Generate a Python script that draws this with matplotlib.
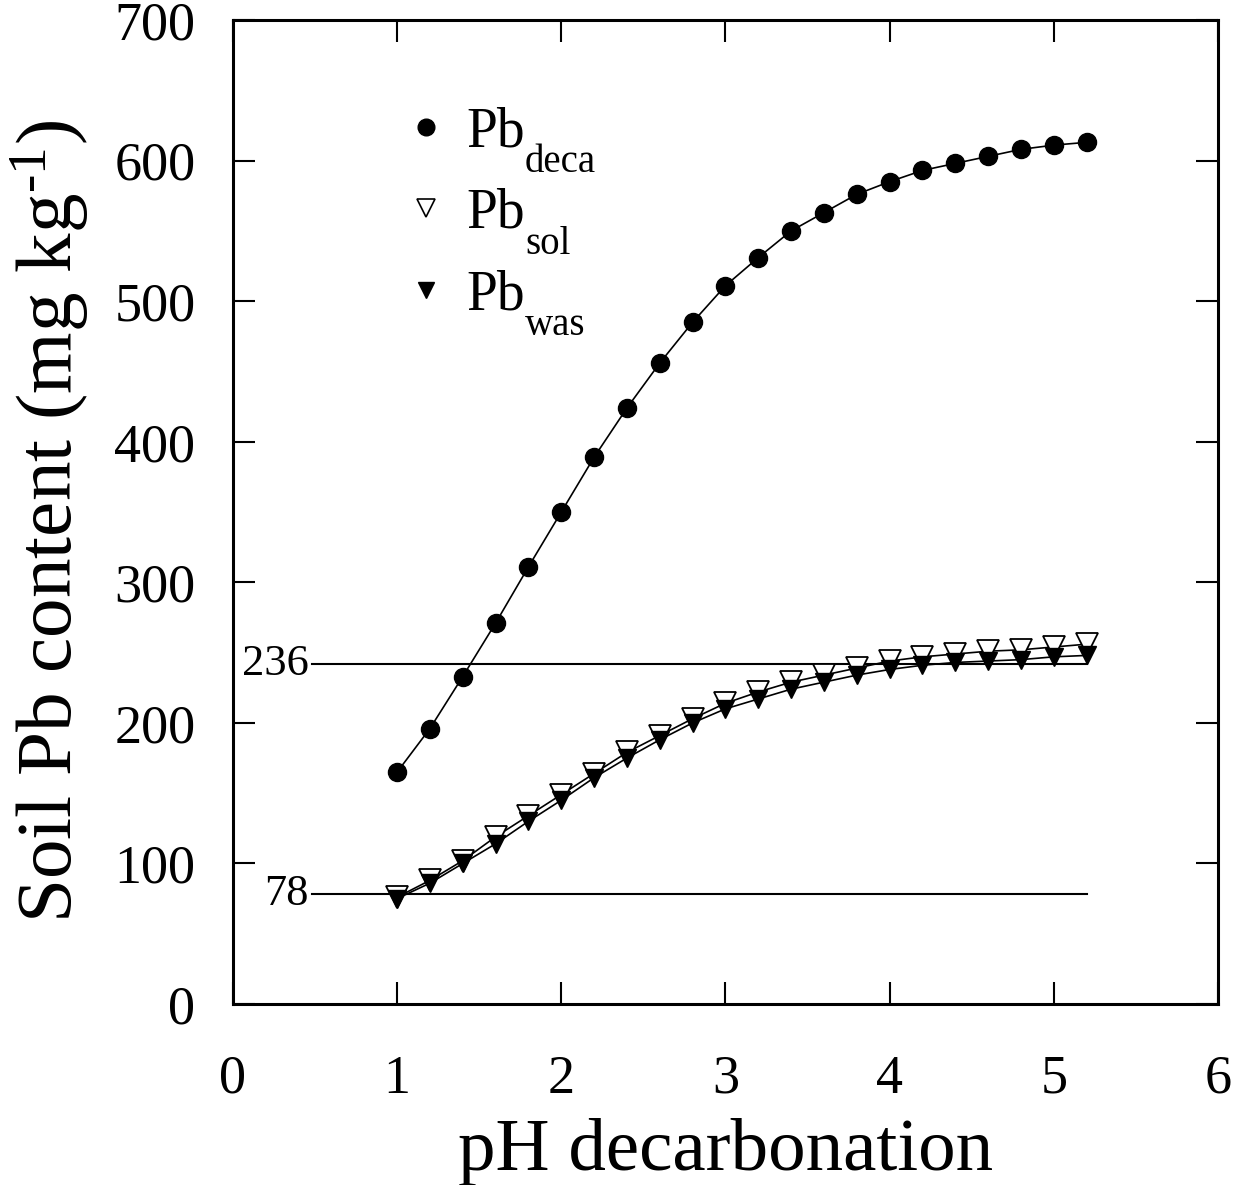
import matplotlib
matplotlib.use("Agg")
import matplotlib.pyplot as plt
from matplotlib.lines import Line2D

plt.rcParams['font.family'] = ['Liberation Serif', 'DejaVu Serif']
plt.rcParams['mathtext.fontset'] = 'custom'
plt.rcParams['mathtext.rm'] = 'Liberation Serif'
plt.rcParams['mathtext.it'] = 'Liberation Serif:italic'

ph = [1.0, 1.2, 1.4, 1.6, 1.8, 2.0, 2.2, 2.4, 2.6, 2.8, 3.0,
      3.2, 3.4, 3.6, 3.8, 4.0, 4.2, 4.4, 4.6, 4.8, 5.0, 5.2]
pb_deca = [165, 196, 233, 271, 311, 350, 389, 424, 456, 485, 511,
           531, 550, 563, 576, 585, 593, 598, 603, 608, 611, 613]
pb_sol = [76, 88, 102, 119, 134, 149, 164, 179, 191, 203, 214,
          222, 229, 234, 239, 244, 247, 249, 251, 252, 254, 256]
pb_was = [75, 86, 100, 114, 130, 145, 161, 175, 188, 200, 210,
          217, 224, 229, 234, 238, 241, 243, 244, 245, 247, 248]
ref_levels = [242, 78]
ref_labels = ["236", "78"]
ref_span = [0.48, 5.2]
x_ticks = [0, 1, 2, 3, 4, 5, 6]
y_ticks = [0, 100, 200, 300, 400, 500, 600, 700]
legend_main = ["Pb", "Pb", "Pb"]
legend_sub = ["deca", "sol", "was"]

fig = plt.figure(figsize=(12.47, 11.85), dpi=100)
ax = fig.add_axes([0.1868, 0.1527, 0.7899, 0.8304])

for lvl, lab in zip(ref_levels, ref_labels):
    ax.plot(ref_span, [lvl, lvl], color='black', lw=1.5, zorder=1)
    ax.text(ref_span[0] - 0.02, lvl, lab, ha='right', va='center', fontsize=32)

ax.plot(ph, pb_deca, color='black', lw=1.2, marker='o', ms=13,
        mfc='black', mec='black', zorder=3)
ax.plot(ph, pb_sol, color='black', lw=1.2, marker='v', ms=16,
        mfc='white', mec='black', mew=1.3, zorder=3)
ax.plot(ph, pb_was, color='black', lw=1.2, marker='v', ms=12.5,
        mfc='black', mec='black', zorder=4)

ax.set_xlim(0, 6)
ax.set_ylim(0, 700)
ax.set_xticks(x_ticks)
ax.set_yticks(y_ticks)
ax.tick_params(direction='in', length=16, width=1.5, top=True, right=True,
               labelsize=39)
ax.tick_params(axis='x', pad=36)
ax.tick_params(axis='y', pad=27)
for sp in ax.spines.values():
    sp.set_linewidth(2.2)

ax.set_xlabel("pH decarbonation", fontsize=54, labelpad=10)
ax.set_ylabel("Soil Pb content (mg kg$^{\\text{-1}}$)", fontsize=57)
ax.yaxis.set_label_coords(-0.144, 0.49)

handles = [
    Line2D([], [], ls='none', marker='o', ms=12, mfc='black', mec='black'),
    Line2D([], [], ls='none', marker='v', ms=13, mfc='white', mec='black', mew=1.2),
    Line2D([], [], ls='none', marker='v', ms=11, mfc='black', mec='black'),
]
leg = ax.legend(handles, legend_main, loc='upper left', bbox_to_anchor=(0.154, 0.935),
                frameon=False, fontsize=40, handlelength=0.7, handletextpad=0.37,
                labelspacing=0.53, borderaxespad=0)
fig.canvas.draw()
for t, sub in zip(leg.get_texts(), legend_sub):
    ax.annotate(sub, xy=(1, 0), xycoords=t, xytext=(0, -10),
                textcoords='offset points', ha='left', va='baseline',
                fontsize=28, zorder=10)

fig.savefig("out.png", dpi=100)
